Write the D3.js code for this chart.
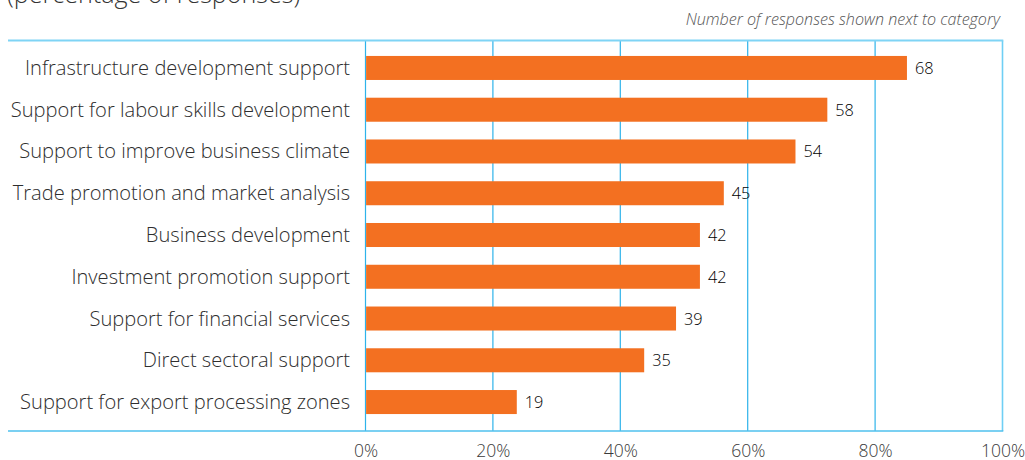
<!DOCTYPE html>
<html>
<head>
<meta charset="utf-8">
<script src="https://cdn.jsdelivr.net/npm/d3@7"></script>
<style>
  html, body { margin: 0; padding: 0; background: #fff; }
  svg { display: block; }
  text { font-family: "Open Sans", "Noto Sans", sans-serif; font-weight: 300; }
</style>
</head>
<body>
<svg id="chart" width="1025" height="460"></svg>
<script>
// Categories of support, top to bottom
const categories = [
  "Infrastructure development support",
  "Support for labour skills development",
  "Support to improve business climate",
  "Trade promotion and market analysis",
  "Business development",
  "Investment promotion support",
  "Support for financial services",
  "Direct sectoral support",
  "Support for export processing zones"
];
// Number of responses per category
const responses = [68, 58, 54, 45, 42, 42, 39, 35, 19];
// Total number of respondents (base for the percentages)
const totalRespondents = 80;
// Axis ticks (percent)
const tickValues = [0, 20, 40, 60, 80, 100];
const tickLabels = ["0%", "20%", "40%", "60%", "80%", "100%"];

const svg = d3.select("#chart");

const frame = { left: 8, top: 40.5, right: 1002.5, bottom: 431 };

const x = d3.scaleLinear().domain([0, 100]).range([365.5, 1002.5]);
const y = d3.scaleBand()
  .domain(categories)
  .range([47.6, 422.4])
  .paddingInner(0.425)
  .paddingOuter(0.2);

// Title line (partly above the visible area)
svg.append("text")
  .attr("x", 7)
  .attr("y", 3)
  .attr("font-size", 25.1)
  .attr("fill", "#333")
  .text("(percentage of responses)");

svg.append("text")
  .attr("x", 1000)
  .attr("y", 25)
  .attr("text-anchor", "end")
  .attr("font-size", 16.1)
  .attr("font-style", "italic")
  .attr("fill", "#555")
  .text("Number of responses shown next to category");

// Vertical gridlines
svg.append("g")
  .selectAll("line")
  .data(tickValues)
  .join("line")
  .attr("x1", d => x(d))
  .attr("x2", d => x(d))
  .attr("y1", frame.top)
  .attr("y2", frame.bottom)
  .attr("stroke", d => d === 100 ? "#6fcff5" : "#2eb3ea")
  .attr("stroke-width", d => d === 100 ? 1.6 : 1.2);

// Top and bottom frame lines
svg.append("line")
  .attr("x1", frame.left).attr("x2", frame.right + 0.8)
  .attr("y1", frame.top).attr("y2", frame.top)
  .attr("stroke", "#7fd4f5").attr("stroke-width", 1.8);
svg.append("line")
  .attr("x1", frame.left).attr("x2", frame.right + 0.8)
  .attr("y1", frame.bottom).attr("y2", frame.bottom)
  .attr("stroke", "#4fc0ee").attr("stroke-width", 1.4);

// Bars
svg.append("g")
  .selectAll("rect")
  .data(categories)
  .join("rect")
  .attr("x", x(0) + 0.6)
  .attr("y", d => y(d))
  .attr("height", y.bandwidth())
  .attr("width", (d, i) => x(responses[i] / totalRespondents * 100) - x(0) - 0.6)
  .attr("fill", "#f37021");

// Value labels
svg.append("g")
  .selectAll("text")
  .data(categories)
  .join("text")
  .attr("x", (d, i) => x(responses[i] / totalRespondents * 100) + 8)
  .attr("y", d => y(d) + y.bandwidth() / 2 + 6)
  .attr("font-size", 16.3)
  .attr("font-weight", 400)
  .attr("fill", "#000")
  .text((d, i) => responses[i]);

// Category labels
svg.append("g")
  .selectAll("text")
  .data(categories)
  .join("text")
  .attr("x", 350)
  .attr("y", d => y(d) + y.bandwidth() / 2 + 7)
  .attr("text-anchor", "end")
  .attr("font-size", 20.1)
  .attr("fill", "#2e2e2e")
  .text(d => d);

// Bottom axis labels
const axis = d3.axisBottom(x)
  .tickValues(tickValues)
  .tickFormat((d, i) => tickLabels[i])
  .tickSize(0)
  .tickPadding(0);
const gAxis = svg.append("g")
  .attr("transform", `translate(0, ${frame.bottom})`)
  .call(axis);
gAxis.select(".domain").remove();
gAxis.selectAll("text")
  .attr("y", 25.5)
  .attr("dy", 0)
  .attr("font-size", 17.5)
  .attr("font-family", "\"Open Sans\", \"Noto Sans\", sans-serif")
  .attr("font-weight", 300)
  .attr("fill", "#3a3a3a");
</script>
</body>
</html>
